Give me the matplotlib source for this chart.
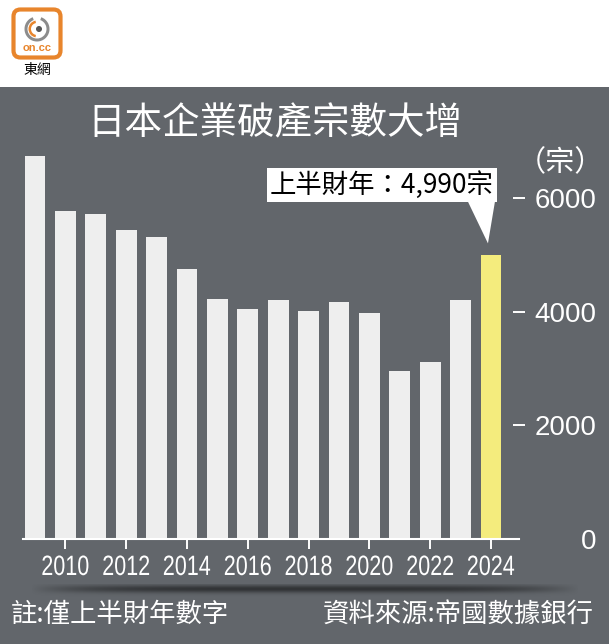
import matplotlib
matplotlib.use('Agg')
import matplotlib.pyplot as plt
import numpy as np
from matplotlib.patches import Rectangle, FancyBboxPatch, Circle, Wedge, Polygon, PathPatch
from matplotlib.textpath import TextPath
from matplotlib.font_manager import FontProperties
from matplotlib.transforms import Affine2D, IdentityTransform

# data
years = list(range(2009, 2025))
cases = [6740, 5770, 5720, 5440, 5310, 4750, 4220, 4050,
         4210, 4010, 4170, 3970, 2960, 3120, 4200, 4990]
yticks = [0, 2000, 4000, 6000]
xticks = list(range(2010, 2025, 2))
title = '日本企業破產宗數大增'
callout = '上半財年：4,990宗'
unit = '（宗）'
note = '註:僅上半財年數字'
source = '資料來源:帝國數據銀行'

BG = '#62666b'
BAR = '#eeeeee'
HL = '#f4ec7d'
ORANGE = '#e8852c'
CJK = ['Noto Sans CJK TC', 'DejaVu Sans']

W, H = 609, 644

def fx(px):
    return px / W

def fy(py):
    return 1 - py / H

fig = plt.figure(figsize=(W / 100, H / 100), dpi=100, facecolor='white')
fig.patches.append(Rectangle((0, 0), 1, fy(87), transform=fig.transFigure,
                             facecolor=BG, edgecolor='none', zorder=-5))

# main bar chart, 0.05685 px per case, 30.4 px per year
ymax = 7000
ax = fig.add_axes([fx(23), fy(539), fx(519) - fx(23), ymax * 0.05685 / H])
ax.set_zorder(2)
ax.set_facecolor('none')
colors = [BAR] * (len(years) - 1) + [HL]
ax.bar(years, cases, width=0.69, color=colors, zorder=2)
ax.set_xlim(2009 - 12 / 30.4, 2024 + 28 / 30.4)
ax.set_ylim(0, ymax)

for s in ['top', 'left', 'right']:
    ax.spines[s].set_visible(False)
ax.spines['bottom'].set_color('white')
ax.spines['bottom'].set_linewidth(1.5)

ax.set_xticks(xticks)
ax.set_xticklabels([])
ax.tick_params(axis='x', colors='white', length=7.2, width=1.4)

# year labels in a condensed look (no narrow font installed): squeeze text paths
fp = FontProperties(family='Liberation Sans')
for yr in xticks:
    tp = TextPath((0, 0), str(yr), size=28, prop=fp)
    ext = tp.get_extents()
    px, _ = ax.get_xaxis_transform().transform((yr, 0))
    tr = (Affine2D().translate(-(ext.x0 + ext.x1) / 2, 0)
          .scale(0.77, 1).translate(px, H - 575))
    fig.add_artist(PathPatch(tr.transform_path(tp), facecolor='white',
                             edgecolor='none', transform=IdentityTransform()))

ax.yaxis.tick_right()
ax.set_yticks(yticks)
ax.set_yticklabels([str(v) for v in yticks], fontfamily='Liberation Sans')
ax.tick_params(axis='y', direction='inout', length=9, width=1.4, colors='white',
               labelsize=20, pad=51)
ax.yaxis.get_major_ticks()[0].tick2line.set_visible(False)
for lab in ax.get_yticklabels():
    lab.set_ha('right')

# callout for latest half-year
last_x, last_y = years[-1], cases[-1]
box_l, box_r = last_x - 7.37, last_x + 0.2
box_b, box_t = 5930, 6525
ax.add_patch(Rectangle((box_l, box_b), box_r - box_l, box_t - box_b,
                       facecolor='white', edgecolor='none', zorder=4, clip_on=False))
ax.add_patch(Polygon([(last_x - 0.76, box_b + 5), (last_x + 0.13, box_b + 5),
                      (last_x - 0.1, last_y + 210)],
                     closed=True, facecolor='white', edgecolor='none', zorder=4))
ax.text((box_l + box_r) / 2, (box_b + box_t) / 2, callout, ha='center', va='center',
        fontsize=19, color='black', family=CJK, zorder=5)

# titles and notes
fig.text(fx(275), fy(124), title, ha='center', va='center', fontsize=27,
         color='white', family=CJK)
fig.text(fx(560), fy(163), unit, ha='center', va='center', fontsize=21,
         color='white', family=CJK)
fig.text(fx(11), fy(614), note, ha='left', va='center', fontsize=19,
         color='white', family=CJK)
fig.text(fx(594), fy(614), source, ha='right', va='center', fontsize=19,
         color='white', family=CJK)

# soft shadow under the year labels
sh = fig.add_axes([fx(30), fy(600), fx(580) - fx(30), 16 / H])
sh.axis('off')
gx = np.linspace(-1, 1, 300)
gy = np.linspace(0, 1, 30)
alpha = np.outer(np.exp(-((gy - 0.3) / 0.25) ** 2), 1 - np.abs(gx) ** 4) * 0.5
img = np.zeros((30, 300, 4))
img[..., 3] = alpha
sh.imshow(img, aspect='auto', extent=[0, 1, 0, 1], origin='upper')

# logo block
lg = fig.add_axes([0, fy(88), fx(100), 88 / H])
lg.set_xlim(0, 100)
lg.set_ylim(88, 0)
lg.axis('off')
lg.add_patch(FancyBboxPatch((13.5, 9.5), 47, 48, boxstyle='round,pad=0,rounding_size=7',
                            facecolor='white', edgecolor=ORANGE, linewidth=3))
lg.add_patch(Wedge((37, 29), 12.5, -70, 250, width=3, facecolor='#8c8c8c', edgecolor='none'))
lg.add_patch(Wedge((37, 29), 8.5, 100, 260, width=2.5, facecolor=ORANGE, edgecolor='none'))
lg.add_patch(Circle((39, 29), 3, facecolor='#555555', edgecolor='none'))
lg.text(37, 48, 'on.cc', ha='center', va='center', fontsize=8, fontweight='bold',
        color=ORANGE, family='Liberation Sans')
lg.text(37, 70, '東網', ha='center', va='center', fontsize=10, color='black', family=CJK)

fig.savefig('out.png', dpi=100, facecolor=fig.get_facecolor())
